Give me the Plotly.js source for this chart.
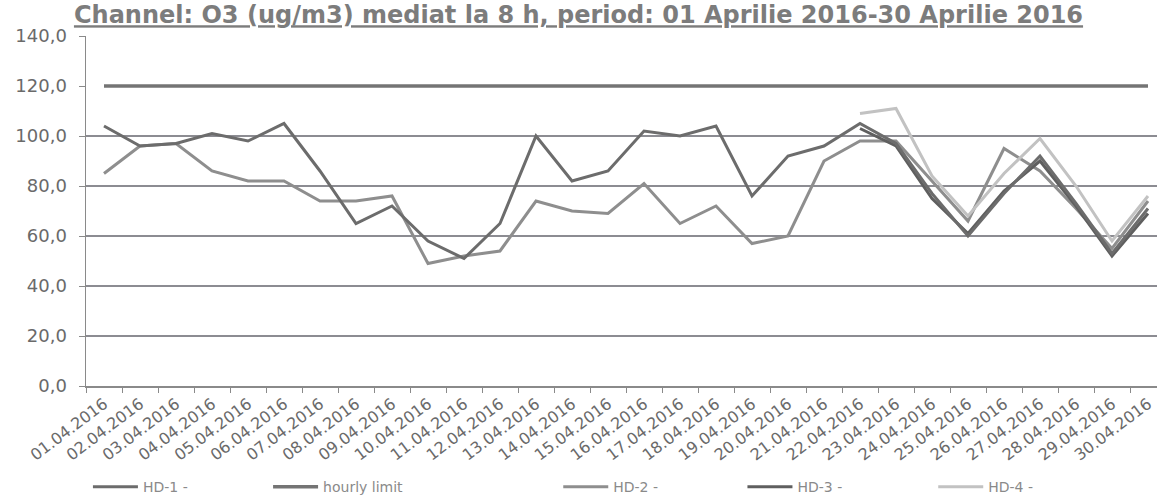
<!DOCTYPE html>
<html>
<head>
<meta charset="utf-8">
<script src="https://cdn.plot.ly/plotly-3.0.1.min.js"></script>
<style>
  html, body { margin: 0; padding: 0; background: #ffffff; }
  #chart { width: 1157px; height: 495px; }
</style>
</head>
<body>
<div id="chart"></div>
<script>
// ---- data ----
const dates = [
  "01.04.2016","02.04.2016","03.04.2016","04.04.2016","05.04.2016","06.04.2016",
  "07.04.2016","08.04.2016","09.04.2016","10.04.2016","11.04.2016","12.04.2016",
  "13.04.2016","14.04.2016","15.04.2016","16.04.2016","17.04.2016","18.04.2016",
  "19.04.2016","20.04.2016","21.04.2016","22.04.2016","23.04.2016","24.04.2016",
  "25.04.2016","26.04.2016","27.04.2016","28.04.2016","29.04.2016","30.04.2016"
];
const hd1 = [104, 96, 97, 101, 98, 105, 86, 65, 72, 58, 51, 65, 100, 82, 86, 102, 100, 104, 76, 92, 96, 105, 97, 77, 60, 77, 92, 73, 53, 71];
const hourlyLimit = [120,120,120,120,120,120,120,120,120,120,120,120,120,120,120,120,120,120,120,120,120,120,120,120,120,120,120,120,120,120];
const hd2 = [85, 96, 97, 86, 82, 82, 74, 74, 76, 49, 52, 54, 74, 70, 69, 81, 65, 72, 57, 60, 90, 98, 98, 82, 66, 95, 86, 71, 55, 74];
const hd3 = [null,null,null,null,null,null,null,null,null,null,null,null,null,null,null,null,null,null,null,null,null, 103, 96, 75, 61, 78, 90, 72, 52, 69];
const hd4 = [null,null,null,null,null,null,null,null,null,null,null,null,null,null,null,null,null,null,null,null,null, 109, 111, 84, 68, 85, 99, 80, 58, 76];
const yTicks = [0, 20, 40, 60, 80, 100, 120, 140];
const gridTicks = [20, 40, 60, 80, 100];
const seriesNames = ["HD-1 -", "hourly limit", "HD-2 -", "HD-3 -", "HD-4 -"];
const titleText = "Channel: O3 (ug/m3) mediat la 8 h, period: 01 Aprilie 2016-30 Aprilie 2016";

// ---- traces ----
function line(y, name, color, width, legendId, yaxis) {
  return {
    type: "scatter", mode: "lines", x: dates, y: y, name: name,
    line: {color: color, width: width}, connectgaps: false,
    legend: legendId, yaxis: yaxis || "y", hoverinfo: "skip"
  };
}
const data = [
  line(hd2, seriesNames[2], "#8e8e8e", 3, "legend3"),
  line(hd4, seriesNames[4], "#c2c2c2", 3, "legend5"),
  line(hd3, seriesNames[3], "#5f5f5f", 3, "legend4"),
  line(hd1, seriesNames[0], "#6c6c6c", 3, "legend"),
  line(hourlyLimit, seriesNames[1], "#747474", 3.5, "legend2", "y2")
];

const legendFont = {family: "DejaVu Sans", size: 14, color: "#8a8a8a"};
function leg(x) {
  return {x: x, xref: "container", y: 0.016, yref: "container",
          xanchor: "left", yanchor: "middle", orientation: "h",
          bgcolor: "rgba(0,0,0,0)", font: legendFont, itemwidth: 45};
}
const axisGray = "#8a8a8a";
const layout = {
  width: 1157, height: 495,
  margin: {l: 86, r: 0, t: 36, b: 109, autoexpand: false},
  paper_bgcolor: "#ffffff", plot_bgcolor: "#ffffff",
  separators: ", ",
  title: {
    text: "<u>" + titleText + "</u>",
    font: {family: "DejaVu Sans", size: 24, color: "#7c7c7c", weight: "bold"},
    x: 0.5, xref: "container", xanchor: "center",
    y: 0.97, yref: "container", yanchor: "middle"
  },
  xaxis: {
    type: "category", categoryorder: "array", categoryarray: dates,
    range: [-0.5, 29.25], tickangle: -37,
    showline: true, linecolor: axisGray, linewidth: 1.5,
    ticks: "outside", tickson: "boundaries", ticklen: 5, tickcolor: axisGray,
    showgrid: false, zeroline: false, ticklabelstandoff: 1,
    tickfont: {family: "DejaVu Sans", size: 16, color: "#6a6a6a"}
  },
  yaxis: {
    range: [0, 140], tickvals: yTicks, tickformat: ".1f",
    showline: true, linecolor: axisGray, linewidth: 1.5,
    ticks: "outside", ticklen: 6, tickcolor: axisGray,
    showgrid: false, zeroline: false, ticklabelstandoff: 8,
    tickfont: {family: "DejaVu Sans", size: 18, color: "#6a6a6a"}
  },
  yaxis2: {
    overlaying: "y", range: [0, 140], tickvals: gridTicks,
    showticklabels: false, ticks: "", showline: false, zeroline: false,
    showgrid: true, gridcolor: "#8c8c92", gridwidth: 1.2
  },
  legend: leg(0.0760),
  legend2: leg(0.2317),
  legend3: leg(0.4825),
  legend4: leg(0.6417),
  legend5: leg(0.8066),
  showlegend: true
};

Plotly.newPlot("chart", data, layout, {staticPlot: true, displayModeBar: false});
</script>
</body>
</html>
